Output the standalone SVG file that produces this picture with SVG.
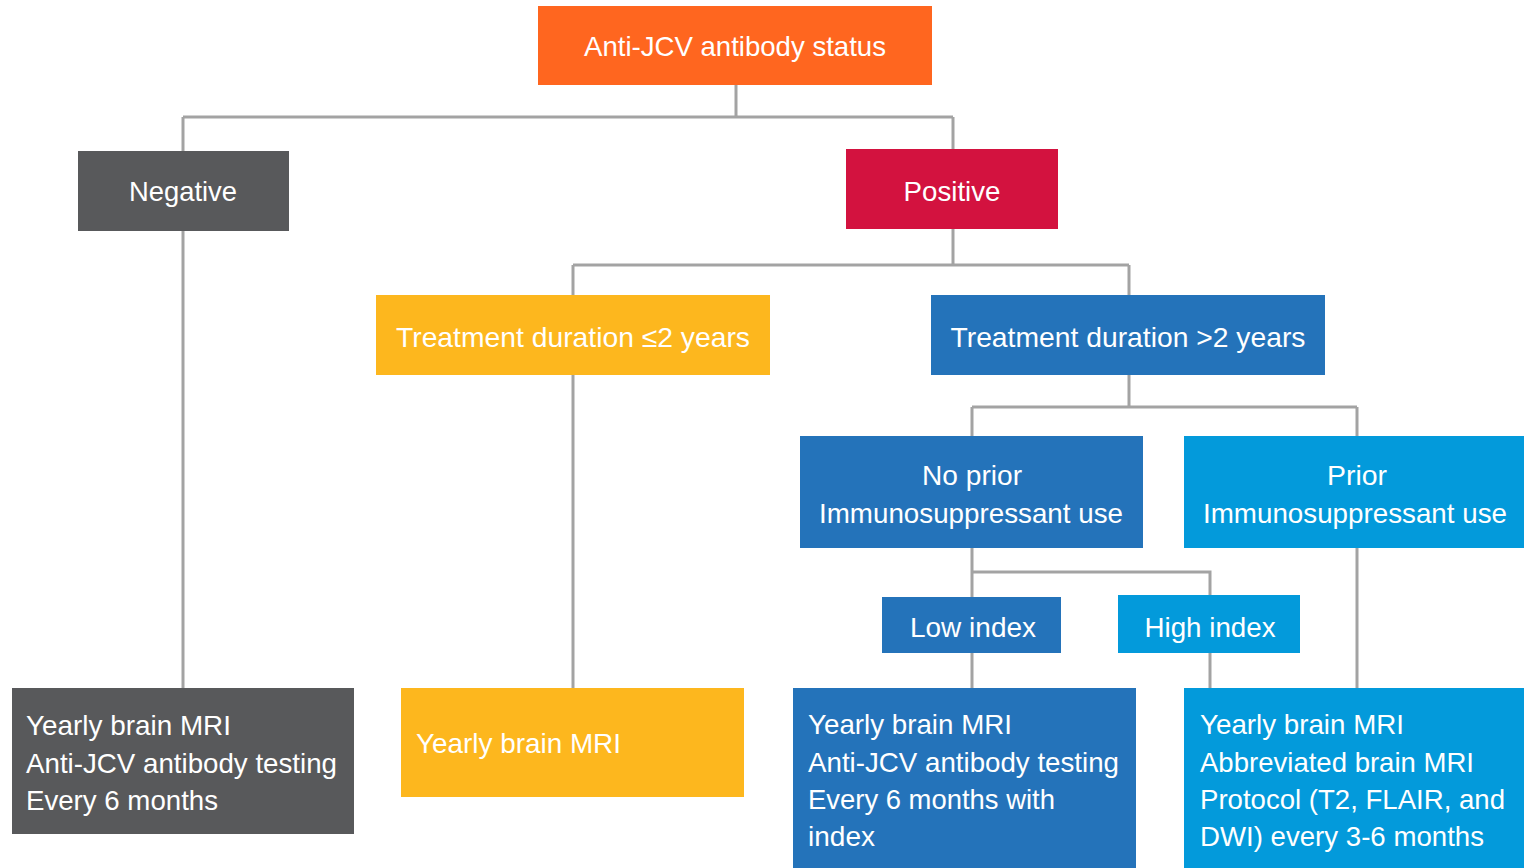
<svg xmlns="http://www.w3.org/2000/svg" width="1524" height="868" viewBox="0 0 1524 868">
<style>
text{font-family:"Liberation Sans",Arial,sans-serif;font-size:28px;fill:#ffffff}
.c{text-anchor:middle}
.ln{fill:none;stroke:#a3a3a3;stroke-width:3}
</style>
<rect width="1524" height="868" fill="#ffffff"/>
<g id="connectors">
<path class="ln" d="M736 85V117M183 117H953M183 117V151M953 117V149"/>
<path class="ln" d="M183 231V688"/>
<path class="ln" d="M953 229V265M573 265H1129M573 265V295M1129 265V295"/>
<path class="ln" d="M573 375V688"/>
<path class="ln" d="M1129 375V407M972 407H1357M972 407V436M1357 407V436"/>
<path class="ln" d="M972 548V597M972 572H1210V595"/>
<path class="ln" d="M972 653V688M1210 653V688M1357 548V688"/>
</g>
<g id="root"><rect x="538" y="6" width="394" height="79" fill="#ff661f"/><text class="c" x="735" y="56" textLength="302" lengthAdjust="spacingAndGlyphs">Anti-JCV antibody status</text></g>
<g id="negative"><rect x="78" y="151" width="211" height="80" fill="#58595b"/><text class="c" x="183" y="201" textLength="108" lengthAdjust="spacingAndGlyphs">Negative</text></g>
<g id="positive"><rect x="846" y="149" width="212" height="80" fill="#d3123f"/><text class="c" x="952" y="201" textLength="97" lengthAdjust="spacingAndGlyphs">Positive</text></g>
<g id="short"><rect x="376" y="295" width="394" height="80" fill="#fdb71e"/><text class="c" x="573" y="347" textLength="354" lengthAdjust="spacingAndGlyphs">Treatment duration ≤2 years</text></g>
<g id="long"><rect x="931" y="295" width="394" height="80" fill="#2473ba"/><text class="c" x="1128" y="347" textLength="355" lengthAdjust="spacingAndGlyphs">Treatment duration &gt;2 years</text></g>
<g id="noprior"><rect x="800" y="436" width="343" height="112" fill="#2473ba"/><text class="c" x="972" y="485" textLength="100" lengthAdjust="spacingAndGlyphs">No prior</text><text class="c" x="971" y="523" textLength="304" lengthAdjust="spacingAndGlyphs">Immunosuppressant use</text></g>
<g id="prior"><rect x="1184" y="436" width="340" height="112" fill="#039adb"/><text class="c" x="1357" y="485" textLength="60" lengthAdjust="spacingAndGlyphs">Prior</text><text class="c" x="1355" y="523" textLength="304" lengthAdjust="spacingAndGlyphs">Immunosuppressant use</text></g>
<g id="low"><rect x="882" y="597" width="179" height="56" fill="#2473ba"/><text class="c" x="973" y="637" textLength="126" lengthAdjust="spacingAndGlyphs">Low index</text></g>
<g id="high"><rect x="1118" y="595" width="182" height="58" fill="#039adb"/><text class="c" x="1210" y="637" textLength="131" lengthAdjust="spacingAndGlyphs">High index</text></g>
<g id="out-negative"><rect x="12" y="688" width="342" height="146" fill="#58595b"/>
<text x="26" y="735" textLength="205" lengthAdjust="spacingAndGlyphs">Yearly brain MRI</text>
<text x="26" y="773" textLength="311" lengthAdjust="spacingAndGlyphs">Anti-JCV antibody testing</text>
<text x="26" y="810" textLength="192" lengthAdjust="spacingAndGlyphs">Every 6 months</text></g>
<g id="out-short"><rect x="401" y="688" width="343" height="109" fill="#fdb71e"/>
<text x="416" y="753" textLength="205" lengthAdjust="spacingAndGlyphs">Yearly brain MRI</text></g>
<g id="out-low"><rect x="793" y="688" width="343" height="180" fill="#2473ba"/>
<text x="808" y="734" textLength="204" lengthAdjust="spacingAndGlyphs">Yearly brain MRI</text>
<text x="808" y="772" textLength="311" lengthAdjust="spacingAndGlyphs">Anti-JCV antibody testing</text>
<text x="808" y="809" textLength="247" lengthAdjust="spacingAndGlyphs">Every 6 months with</text>
<text x="808" y="846" textLength="67" lengthAdjust="spacingAndGlyphs">index</text></g>
<g id="out-high"><rect x="1184" y="688" width="340" height="180" fill="#039adb"/>
<text x="1200" y="734" textLength="204" lengthAdjust="spacingAndGlyphs">Yearly brain MRI</text>
<text x="1200" y="772" textLength="274" lengthAdjust="spacingAndGlyphs">Abbreviated brain MRI</text>
<text x="1200" y="809" textLength="305" lengthAdjust="spacingAndGlyphs">Protocol (T2, FLAIR, and</text>
<text x="1200" y="846" textLength="284" lengthAdjust="spacingAndGlyphs">DWI) every 3-6 months</text></g>
</svg>
